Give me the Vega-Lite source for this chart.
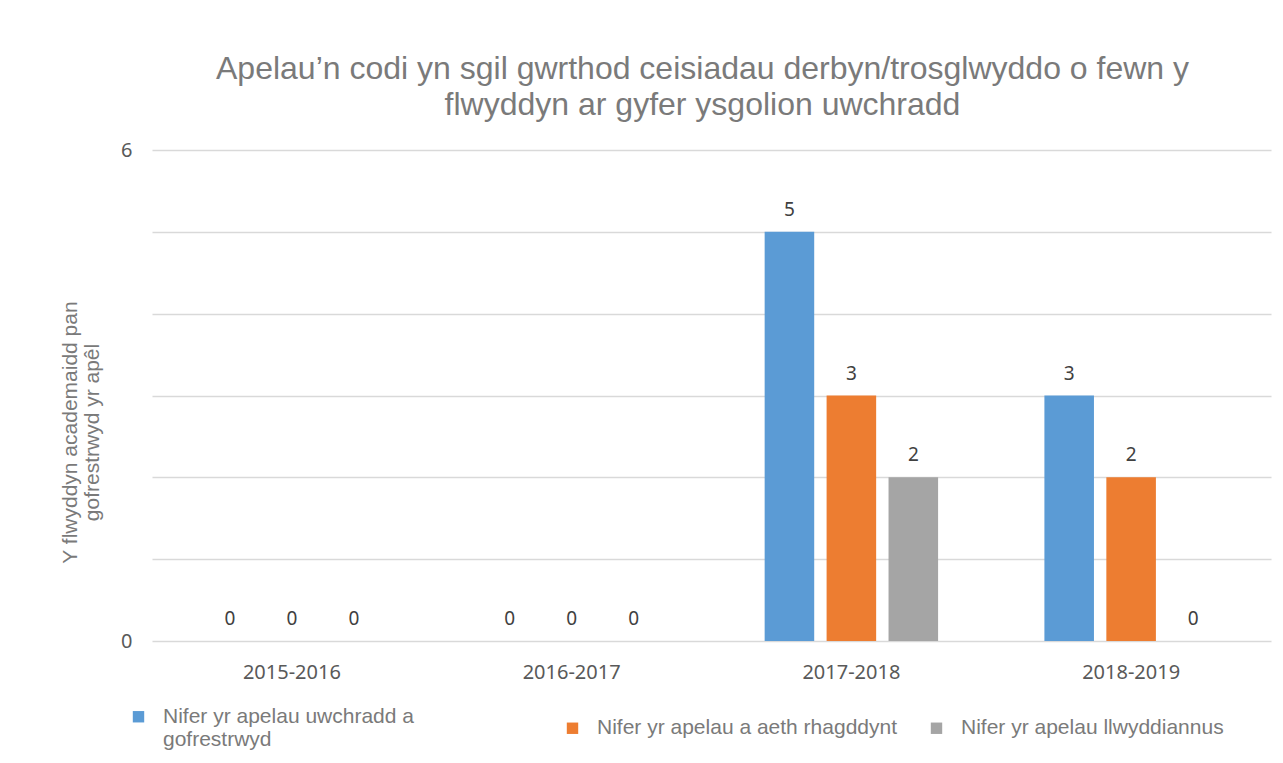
{
  "$schema": "https://vega.github.io/schema/vega-lite/v6.json",
  "autosize": {"type": "none"},
  "width": 1119,
  "height": 491,
  "padding": {"left": 152, "top": 150, "right": 12, "bottom": 122},
  "background": "white",
  "config": {"view": {"stroke": null}},
  "title": {
    "text": ["Apelau’n codi yn sgil gwrthod ceisiadau derbyn/trosglwyddo o fewn y", "flwyddyn ar gyfer ysgolion uwchradd"],
    "font": "Liberation Sans",
    "fontSize": 32,
    "fontWeight": "normal",
    "color": "#7a7a7a",
    "lineHeight": 36,
    "anchor": "middle",
    "offset": 18,
    "dx": -9
  },
  "data": {
    "values": [
      {"year": "2015-2016", "series": "Nifer yr apelau uwchradd a gofrestrwyd", "value": 0},
      {"year": "2015-2016", "series": "Nifer yr apelau a aeth rhagddynt", "value": 0},
      {"year": "2015-2016", "series": "Nifer yr apelau llwyddiannus", "value": 0},
      {"year": "2016-2017", "series": "Nifer yr apelau uwchradd a gofrestrwyd", "value": 0},
      {"year": "2016-2017", "series": "Nifer yr apelau a aeth rhagddynt", "value": 0},
      {"year": "2016-2017", "series": "Nifer yr apelau llwyddiannus", "value": 0},
      {"year": "2017-2018", "series": "Nifer yr apelau uwchradd a gofrestrwyd", "value": 5},
      {"year": "2017-2018", "series": "Nifer yr apelau a aeth rhagddynt", "value": 3},
      {"year": "2017-2018", "series": "Nifer yr apelau llwyddiannus", "value": 2},
      {"year": "2018-2019", "series": "Nifer yr apelau uwchradd a gofrestrwyd", "value": 3},
      {"year": "2018-2019", "series": "Nifer yr apelau a aeth rhagddynt", "value": 2},
      {"year": "2018-2019", "series": "Nifer yr apelau llwyddiannus", "value": 0}
    ]
  },
  "encoding": {
    "x": {
      "field": "year",
      "type": "nominal",
      "title": null,
      "scale": {"paddingInner": 0.38, "paddingOuter": 0.19},
      "axis": {
        "labelAngle": 0,
        "labelFont": "Noto Sans",
        "labelFontSize": 20,
        "labelColor": "#595959",
        "labelPadding": 21,
        "domain": false,
        "ticks": false,
        "grid": false
      }
    },
    "xOffset": {
      "field": "series",
      "type": "nominal",
      "sort": ["Nifer yr apelau uwchradd a gofrestrwyd", "Nifer yr apelau a aeth rhagddynt", "Nifer yr apelau llwyddiannus"],
      "scale": {"paddingInner": 0.2, "paddingOuter": 0}
    },
    "y": {
      "field": "value",
      "type": "quantitative",
      "scale": {"domain": [0, 6], "nice": false},
      "axis": {
        "values": [0, 1, 2, 3, 4, 5, 6],
        "labelExpr": "datum.value == 0 || datum.value == 6 ? datum.label : ''",
        "labelFont": "Noto Sans",
        "labelFontSize": 20,
        "labelColor": "#595959",
        "labelPadding": 20,
        "domain": false,
        "ticks": false,
        "gridColor": "#d9d9d9",
        "gridWidth": 1.5,
        "title": ["Y flwyddyn academaidd pan", "gofrestrwyd yr apêl"],
        "titleFont": "Liberation Sans",
        "titleFontSize": 21,
        "titleFontWeight": "normal",
        "titleColor": "#7a7a7a",
        "titleX": -72,
        "titleY": 282,
        "titleLineHeight": 22
      }
    }
  },
  "layer": [
    {
      "mark": {"type": "bar"},
      "encoding": {
        "color": {
          "field": "series",
          "type": "nominal",
          "sort": ["Nifer yr apelau uwchradd a gofrestrwyd", "Nifer yr apelau a aeth rhagddynt", "Nifer yr apelau llwyddiannus"],
          "scale": {
            "domain": ["Nifer yr apelau uwchradd a gofrestrwyd", "Nifer yr apelau a aeth rhagddynt", "Nifer yr apelau llwyddiannus"],
            "range": ["#5B9BD5", "#ED7D31", "#A5A5A5"]
          },
          "legend": {
            "title": null,
            "orient": "none",
            "legendX": -24,
            "legendY": 556,
            "direction": "horizontal",
            "columns": 3,
            "symbolType": "square",
            "symbolSize": 130,
            "symbolStrokeWidth": 0,
            "labelFont": "Liberation Sans",
            "labelFontSize": 21,
            "labelColor": "#7a7a7a",
            "labelLimit": 500,
            "labelOffset": 14,
            "columnPadding": 28,
            "labelExpr": "datum.label == 'Nifer yr apelau uwchradd a gofrestrwyd' ? ['Nifer yr apelau uwchradd a\u2800\u2800\u2800\u2800\u2800\u2800\u2800\u2800', 'gofrestrwyd'] : datum.label"
          }
        }
      }
    },
    {
      "mark": {"type": "text", "baseline": "bottom", "dy": -12, "font": "Noto Sans", "fontSize": 19, "color": "#404040"},
      "encoding": {
        "text": {"field": "value", "type": "quantitative"}
      }
    }
  ]
}
